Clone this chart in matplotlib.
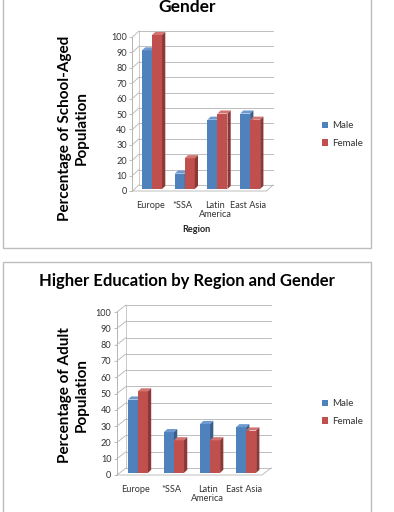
import matplotlib
matplotlib.use('Agg')
import matplotlib.pyplot as plt
from matplotlib.patches import Polygon, Rectangle

# data
regions = ['Europe', '*SSA', 'Latin\nAmerica', 'East Asia']
school_male = [90, 10, 45, 49]
school_female = [100, 20, 49, 45]
higher_male = [45, 25, 30, 28]
higher_female = [50, 20, 20, 26]

BLUE = '#4F81BD'
BLUE_SIDE = '#385D8A'
BLUE_TOP = '#6E9AD0'
RED = '#C0504D'
RED_SIDE = '#8C3836'
RED_TOP = '#D27471'
GRID = '#b4b4b4'

W, H = 394, 512
plt.rcParams['font.family'] = ['Lato', 'DejaVu Sans']

fig = plt.figure(figsize=(W / 100, H / 100), dpi=100)


def px_axes(left, bottom, right, top):
    # pixel box (origin top-left) -> figure fraction axes
    return fig.add_axes([left / W, 1 - bottom / H, (right - left) / W, (bottom - top) / H])


def bar3d(ax, x0, width, val, off, depth, front, top, side):
    bx, by = off
    ddx, ddy = depth
    x0 = x0 + bx
    x1 = x0 + width
    y0 = by
    y1 = val + by
    ax.add_patch(Rectangle((x0, y0), width, val, facecolor=front, edgecolor='none', clip_on=False))
    ax.add_patch(Polygon([(x0, y1), (x1, y1), (x1 + ddx, y1 + ddy), (x0 + ddx, y1 + ddy)],
                         closed=True, facecolor=top, edgecolor='none', clip_on=False))
    ax.add_patch(Polygon([(x1, y0), (x1 + ddx, y0 + ddy), (x1 + ddx, y1 + ddy), (x1, y1)],
                         closed=True, facecolor=side, edgecolor='none', clip_on=False))


def draw_chart(ax, male, female, xlim, wall, width, off, depth):
    dx, dy = wall
    xlo, xhi = xlim
    ax.set_xlim(xlo, xhi)
    ax.set_ylim(0, 100)
    for s in ['top', 'right', 'bottom']:
        ax.spines[s].set_visible(False)
    ax.spines['left'].set_color(GRID)
    ax.spines['left'].set_linewidth(0.7)
    ax.patch.set_alpha(0)

    ticks = list(range(0, 101, 10))
    for t in ticks:
        ax.plot([xlo, xlo + dx], [t, t + dy], color=GRID, lw=0.6, clip_on=False, zorder=0)
        ax.plot([xlo + dx, xhi + dx], [t + dy, t + dy], color=GRID, lw=0.6, clip_on=False, zorder=0)
    ax.plot([xlo + dx, xlo + dx], [dy, 100 + dy], color=GRID, lw=0.5, clip_on=False, zorder=0)
    ax.plot([xlo, xhi, xhi + dx], [0, 0, dy], color=GRID, lw=0.6, clip_on=False, zorder=0)

    for i in range(len(regions)):
        bar3d(ax, i - width, width, male[i], off, depth, BLUE, BLUE_TOP, BLUE_SIDE)
        bar3d(ax, i, width, female[i], off, depth, RED, RED_TOP, RED_SIDE)

    ax.set_yticks(ticks)
    ax.tick_params(axis='y', labelsize=6.6, length=2, width=0.6, color=GRID,
                   labelcolor='#333333', pad=2)
    ax.set_xticks(range(len(regions)))
    ax.set_xticklabels(regions)
    ax.tick_params(axis='x', labelsize=6.6, length=0, labelcolor='#333333', pad=7)
    for lab in ax.get_xticklabels():
        lab.set_verticalalignment('top')
        lab.set_linespacing(1.1)


def frame(left, top, right, bottom):
    fig.add_artist(Rectangle((left / W, 1 - bottom / H), (right - left) / W, (bottom - top) / H,
                             transform=fig.transFigure, facecolor='none',
                             edgecolor='#bdbdbd', lw=1.0))


frame(2.7, -10, 371, 248.3)
frame(2.7, 262.3, 371, 530)

# upper chart
ax1 = px_axes(132.4, 191, 266.5, 37)
draw_chart(ax1, school_male, school_female, (-0.54, 3.56), (0.2, 3.9), 0.306,
           (0.06, 1.3), (0.1, 2.0))
fig.text(196 / W, 1 - 230 / H, 'Region', fontsize=6.6, fontweight='bold', ha='center',
         va='center', color='#222222')
fig.text(187 / W, 1 - 7 / H, 'Gender', fontsize=12.5, fontweight='bold', ha='center',
         va='center', color='black')
fig.text(73 / W, 1 - 128 / H, 'Percentage of School-Aged\nPopulation', fontsize=11,
         fontweight='bold', rotation=90, ha='center', va='center', linespacing=1.25)

# lower chart
ax2 = px_axes(117, 475, 262, 312)
draw_chart(ax2, higher_male, higher_female, (-0.51, 3.51), (0.25, 4.3), 0.278,
           (0.07, 1.3), (0.09, 1.9))
fig.text(187 / W, 1 - 281 / H, 'Higher Education by Region and Gender', fontsize=12,
         fontweight='bold', ha='center', va='center', color='black')
fig.text(73 / W, 1 - 395 / H, 'Percentage of Adult\nPopulation', fontsize=11,
         fontweight='bold', rotation=90, ha='center', va='center', linespacing=1.25)

handles = [Rectangle((0, 0), 1, 1, facecolor=BLUE), Rectangle((0, 0), 1, 1, facecolor=RED)]
for yc in (134.5, 412.5):
    fig.legend(handles, ['Male', 'Female'], loc='center left',
               bbox_to_anchor=(322 / W, 1 - yc / H), frameon=False, fontsize=7,
               handlelength=0.6, handleheight=0.6, handletextpad=0.4, labelspacing=0.9,
               borderaxespad=0, borderpad=0, labelcolor='#333333')

fig.savefig('out.png', dpi=100)
